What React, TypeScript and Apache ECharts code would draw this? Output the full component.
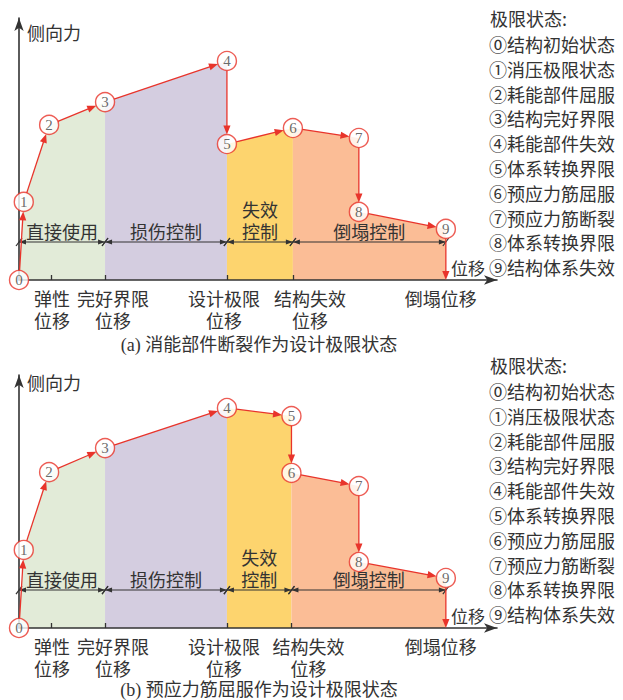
import React, { useEffect, useRef } from "react";
import * as echarts from "echarts";

// ---------- data ----------
const stateLabels = ["0", "1", "2", "3", "4", "5", "6", "7", "8", "9"];
// panel (a): 消能部件断裂作为设计极限状态
const stateXA = [0, 1, 6.3, 18, 43.5, 43.5, 57.3, 71.1, 71.1, 89.3];
const stateYA = [0, 29.8, 59.2, 67.9, 83.6, 51.9, 58, 54.2, 26, 19.5];
// panel (b): 预应力筋屈服作为设计极限状态
const stateXB = [0, 1, 6.3, 18, 43.5, 57, 57, 71.1, 71.1, 89.3];
const stateYB = [0, 29.8, 59.5, 68.7, 84, 80.9, 59.2, 54.2, 25.2, 19.1];

const regionNames = ["直接使用", "损伤控制", "失效\n控制", "倒塌控制"];
const regionStatesA = [[0, 1, 2, 3], [3, 4], [5, 6], [6, 7, 8, 9]];
const regionStatesB = [[0, 1, 2, 3], [3, 4], [4, 5], [6, 7, 8, 9]];
const dimLineY = 14.5;

const xTickNames = ["弹性\n位移", "完好界限\n位移", "设计极限\n位移", "结构失效\n位移", "倒塌位移"];
const xTickValuesA = [6.7, 18, 43.5, 57.3, 89.3];
const xTickValuesB = [6.7, 18, 43.5, 57, 89.3];

const legendTitle = "极限状态:";
const legendItems = [
  "⓪结构初始状态",
  "①消压极限状态",
  "②耗能部件屈服",
  "③结构完好界限",
  "④耗能部件失效",
  "⑤体系转换界限",
  "⑥预应力筋屈服",
  "⑦预应力筋断裂",
  "⑧体系转换界限",
  "⑨结构体系失效",
];
const captions = ["(a) 消能部件断裂作为设计极限状态", "(b) 预应力筋屈服作为设计极限状态"];
const yAxisName = "侧向力";
const xAxisName = "位移";

// ---------- styles ----------
const RED = "#E8342B";
const INK = "#333333";
const CJK = '"Noto Sans CJK SC", sans-serif';
const SERIF = '"Liberation Serif", "DejaVu Serif", serif';
const regionColors = ["#E2EBD8", "#D4CDE0", "#FDD46E", "#FBBD96"];
const labelShift = [1, 8, -3, 17, -5];
const CIRCLE = 19;

const panels = [
  { top: 18, height: 262, yMax: 100, legendTop: 18, captionY: 345, nameY: 32 },
  { top: 375, height: 253, yMax: 96.6, legendTop: 365, captionY: 690, nameY: 382 },
];

function textStyle(text: string, align: string, vAlign: string, extra: any = {}) {
  return {
    text,
    fill: INK,
    font: `18px ${CJK}`,
    fontSize: 18,
    fontFamily: CJK,
    align,
    verticalAlign: vAlign,
    textAlign: align,
    textVerticalAlign: vAlign,
    ...extra,
  };
}

// split a multi-line string into separate text elements, centered on (x, yCenterOfFirstLine)
function lines(text: string, x: number, yFirst: number, step: number) {
  return text.split("\n").map((l, i) => ({
    type: "text",
    x,
    y: yFirst + i * step,
    style: textStyle(l, "center", "middle", { lineHeight: 18 }),
  }));
}

function arrowRender(params: any, api: any) {
  const p0 = api.coord([api.value(0), api.value(1)]);
  const p1 = api.coord([api.value(2), api.value(3)]);
  const endCircle = api.value(4) === 1;
  const dx = p1[0] - p0[0];
  const dy = p1[1] - p0[1];
  const len = Math.hypot(dx, dy) || 1;
  const ux = dx / len;
  const uy = dy / len;
  const R = CIRCLE / 2;
  const s = [p0[0] + ux * R, p0[1] + uy * R];
  const e = endCircle ? [p1[0] - ux * R, p1[1] - uy * R] : [p1[0], p1[1]];
  const ah = 9;
  const aw = 3.6;
  const b = [e[0] - ux * ah, e[1] - uy * ah];
  const px = -uy;
  const py = ux;
  return {
    type: "group",
    children: [
      {
        type: "line",
        shape: { x1: s[0], y1: s[1], x2: b[0] + ux, y2: b[1] + uy },
        style: { stroke: RED, lineWidth: 1.3 },
      },
      {
        type: "polygon",
        shape: {
          points: [
            [e[0], e[1]],
            [b[0] + px * aw, b[1] + py * aw],
            [b[0] - px * aw, b[1] - py * aw],
          ],
        },
        style: { fill: RED },
      },
    ],
  };
}

function dimRender(params: any, api: any) {
  const a = api.coord([api.value(0), api.value(2)]);
  const b = api.coord([api.value(1), api.value(2)]);
  const idx = api.value(3);
  const y = a[1];
  const ah = 7;
  const aw = 2.6;
  const name = regionNames[idx];
  const nLines = name.split("\n").length;
  const step = 22;
  const yFirst = y - 11 - (nLines - 1) * step;
  return {
    type: "group",
    children: [
      { type: "line", shape: { x1: a[0], y1: y, x2: b[0], y2: y }, style: { stroke: INK, lineWidth: 1.2 } },
      {
        type: "polygon",
        shape: { points: [[a[0], y], [a[0] + ah, y - aw], [a[0] + ah, y + aw]] },
        style: { fill: INK },
      },
      {
        type: "polygon",
        shape: { points: [[b[0], y], [b[0] - ah, y - aw], [b[0] - ah, y + aw]] },
        style: { fill: INK },
      },
      { type: "line", shape: { x1: a[0] - 3, y1: y + 4, x2: a[0] + 3, y2: y - 4 }, style: { stroke: INK, lineWidth: 1.2 } },
      { type: "line", shape: { x1: b[0] - 3, y1: y + 4, x2: b[0] + 3, y2: y - 4 }, style: { stroke: INK, lineWidth: 1.2 } },
      ...lines(name, (a[0] + b[0]) / 2, yFirst, step),
    ],
  };
}

function xLabelRender(params: any, api: any) {
  const p = api.coord([api.value(0), 0]);
  const idx = api.value(2);
  return {
    type: "group",
    children: lines(xTickNames[idx], p[0] + labelShift[idx], p[1] + 18, 22),
  };
}

function buildOption() {
  const grid: any[] = [];
  const xAxis: any[] = [];
  const yAxis: any[] = [];
  const series: any[] = [];
  const graphic: any[] = [];

  const sets = [
    { xs: stateXA, ys: stateYA, regions: regionStatesA, ticks: xTickValuesA },
    { xs: stateXB, ys: stateYB, regions: regionStatesB, ticks: xTickValuesB },
  ];

  sets.forEach((set, pi) => {
    const P = panels[pi];
    grid.push({ left: 19, top: P.top, width: 478, height: P.height, containLabel: false });
    xAxis.push({
      type: "value",
      gridIndex: pi,
      min: 0,
      max: 100,
      z: 3,
      splitLine: { show: false },
      axisLine: {
        show: true,
        symbol: ["none", "arrow"],
        symbolSize: [7, 13],
        lineStyle: { color: INK, width: 1.6 },
      },
      axisTick: {
        show: true,
        inside: true,
        length: 5,
        customValues: set.ticks.slice(0, 4),
        lineStyle: { color: INK, width: 1.3 },
      },
      axisLabel: { show: false },
      name: xAxisName,
      nameLocation: "end",
      nameGap: -12,
      nameTextStyle: {
        fontSize: 17,
        fontFamily: CJK,
        color: INK,
        align: "right",
        verticalAlign: "bottom",
        padding: [0, 0, 4, 0],
      },
    });
    yAxis.push({
      type: "value",
      gridIndex: pi,
      min: 0,
      max: P.yMax,
      z: 3,
      splitLine: { show: false },
      axisTick: { show: false },
      axisLabel: { show: false },
      axisLine: {
        show: true,
        symbol: ["none", "arrow"],
        symbolSize: [7, 13],
        lineStyle: { color: INK, width: 1.6 },
      },
    });

    // region fills
    set.regions.forEach((ids, ri) => {
      series.push({
        type: "line",
        xAxisIndex: pi,
        yAxisIndex: pi,
        z: 1,
        symbol: "none",
        silent: true,
        data: ids.map((i) => [set.xs[i], set.ys[i]]),
        lineStyle: { width: 0, opacity: 0 },
        areaStyle: { color: regionColors[ri], opacity: 1 },
      });
    });

    // x-axis labels below the axis
    series.push({
      type: "custom",
      xAxisIndex: pi,
      yAxisIndex: pi,
      z: 4,
      silent: true,
      renderItem: xLabelRender,
      encode: { x: 0, y: 1 },
      data: set.ticks.map((t, i) => [t, 0, i]),
    });

    // dimension line with region labels
    const bounds = set.regions.map((ids) => [set.xs[ids[0]], set.xs[ids[ids.length - 1]]]);
    series.push({
      type: "custom",
      xAxisIndex: pi,
      yAxisIndex: pi,
      z: 4,
      silent: true,
      renderItem: dimRender,
      encode: { x: [0, 1], y: 2 },
      data: bounds.map((b, i) => [b[0], b[1], dimLineY, i]),
    });

    // red arrows between states
    const segs: number[][] = [];
    for (let i = 0; i < set.xs.length - 1; i++) {
      segs.push([set.xs[i], set.ys[i], set.xs[i + 1], set.ys[i + 1], 1]);
    }
    const last = set.xs.length - 1;
    segs.push([set.xs[last], set.ys[last], set.xs[last], 0, 0]);
    series.push({
      type: "custom",
      xAxisIndex: pi,
      yAxisIndex: pi,
      z: 5,
      silent: true,
      renderItem: arrowRender,
      encode: { x: [0, 2], y: [1, 3] },
      data: segs,
    });

    // state circles
    series.push({
      type: "scatter",
      xAxisIndex: pi,
      yAxisIndex: pi,
      z: 6,
      clip: false,
      silent: true,
      symbol: "circle",
      symbolSize: CIRCLE,
      itemStyle: { color: "#ffffff", borderColor: RED, borderWidth: 1.4 },
      label: {
        show: true,
        position: "inside",
        formatter: (p: any) => stateLabels[p.data[2]],
        fontSize: 15,
        lineHeight: 15,
        fontFamily: SERIF,
        color: "#444444",
      },
      data: set.xs.map((x, i) => [x, set.ys[i], i]),
    });

    graphic.push({ type: "text", x: 27, y: P.nameY, style: textStyle(yAxisName, "left", "middle") });
    graphic.push({ type: "text", x: 490, y: P.legendTop, style: textStyle(legendTitle, "left", "middle") });
    legendItems.forEach((t, i) => {
      graphic.push({
        type: "text",
        x: 489,
        y: P.legendTop + 26 + i * 24.8,
        style: textStyle(t, "left", "middle"),
      });
    });
    graphic.push({
      type: "text",
      x: 259,
      y: P.captionY,
      style: textStyle(captions[pi], "center", "middle", {
        font: `18px "Liberation Serif", "Noto Sans CJK SC", serif`,
        fontFamily: '"Liberation Serif", "Noto Sans CJK SC", serif',
      }),
    });
  });

  return {
    animation: false,
    backgroundColor: "#ffffff",
    grid,
    xAxis,
    yAxis,
    series,
    graphic,
  };
}

export default function App() {
  const ref = useRef<HTMLDivElement>(null);
  useEffect(() => {
    if (!ref.current) return;
    const chart = echarts.init(ref.current, undefined, { renderer: "svg" });
    chart.setOption(buildOption() as any);
    return () => chart.dispose();
  }, []);
  return (
    <div
      ref={ref}
      style={{ position: "absolute", left: 0, top: 0, width: 623, height: 700, background: "#fff" }}
    />
  );
}
